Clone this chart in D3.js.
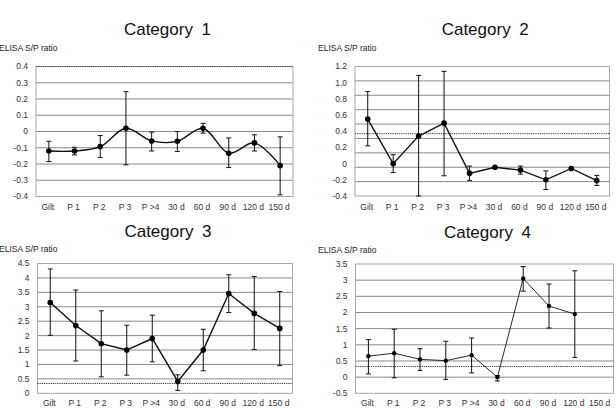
<!DOCTYPE html>
<html>
<head>
  <meta charset="utf-8">
  <title>ELISA S/P ratio by category</title>
  <script src="https://d3js.org/d3.v7.min.js"></script>
  <style>
    body { margin: 0; background: #fff; }
    svg { display: block; font-family: "Liberation Sans", Arial, sans-serif; }
    .title { font-size: 17px; fill: #111; word-spacing: 4px; }
    .ylab { font-size: 8.5px; fill: #222; }
    .tick { font-size: 8.5px; fill: #333; }
    .xlab { font-size: 8.5px; fill: #333; }
  </style>
</head>
<body>
  <svg width="616" height="408"></svg>

  <script>
    var categories = ["Gilt", "P 1", "P 2", "P 3", "P >4", "30 d", "60 d", "90 d", "120 d", "150 d"];

    // Category 1
    var mean1  = [-0.12, -0.12, -0.093, 0.02, -0.058, -0.06, 0.02, -0.134, -0.07, -0.21];
    var upper1 = [-0.06, -0.097, -0.025, 0.245, -0.004, 0.0, 0.05, -0.04, -0.02, -0.033];
    var lower1 = [-0.185, -0.144, -0.16, -0.205, -0.12, -0.123, -0.01, -0.222, -0.12, -0.39];
    var ticks1 = [0.4, 0.3, 0.2, 0.1, 0, -0.1, -0.2, -0.3, -0.4];
    var tickLabels1 = ["0.4", "0.3", "0.2", "0.1", "0", "-0.1", "-0.2", "-0.3", "-0.4"];

    // Category 2
    var mean2  = [0.55, 0.0, 0.34, 0.5, -0.12, -0.045, -0.08, -0.2, -0.06, -0.21];
    var upper2 = [0.89, 0.11, 1.09, 1.14, -0.03, -0.035, -0.03, -0.09, -0.05, -0.145];
    var lower2 = [0.22, -0.11, -0.4, -0.15, -0.21, -0.055, -0.13, -0.32, -0.07, -0.27];
    var ticks2 = [1.2, 1.0, 0.8, 0.6, 0.4, 0.2, 0, -0.2, -0.4];
    var tickLabels2 = ["1.2", "1.0", "0.8", "0.6", "0.4", "0.2", "0", "-0.2", "-0.4"];

    // Category 3
    var mean3  = [3.15, 2.35, 1.72, 1.5, 1.9, 0.41, 1.5, 3.46, 2.77, 2.25];
    var upper3 = [4.31, 3.58, 2.86, 2.36, 2.71, 0.64, 2.22, 4.11, 4.05, 3.53];
    var lower3 = [2.01, 1.12, 0.57, 0.63, 1.09, 0.1, 0.78, 2.8, 1.52, 0.96];
    var ticks3 = [4.5, 4, 3.5, 3, 2.5, 2, 1.5, 1, 0.5, 0];
    var tickLabels3 = ["4.5", "4", "3.5", "3", "2.5", "2", "1.5", "1", "0.5", "0"];

    // Category 4 (no 150 d value)
    var mean4  = [0.65, 0.74, 0.55, 0.51, 0.68, 0.0, 3.05, 2.2, 1.95, null];
    var upper4 = [1.16, 1.48, 0.88, 1.11, 1.21, 0.05, 3.42, 2.88, 3.29, null];
    var lower4 = [0.1, -0.02, 0.21, -0.07, 0.13, -0.12, 2.66, 1.52, 0.61, null];
    var ticks4 = [3.5, 3, 2.5, 2, 1.5, 1, 0.5, 0, -0.5];
    var tickLabels4 = ["3.5", "3", "2.5", "2", "1.5", "1", "0.5", "0", "-0.5"];

    // cut-off (dotted) per panel
    var cutoffs = [0.4, 0.37, 0.34, 0.33];

    var panels = [
      { title: "Category 1", mean: mean1, upper: upper1, lower: lower1, ticks: ticks1, labels: tickLabels1,
        cutoff: cutoffs[0], box: [36, 66.5, 293, 196.5], gridDivs: 8, smooth: true, lw: 1.4, r: 2.8,
        titleY: 35, ylabX: -1, ylabY: 51, xlabY: 210 },
      { title: "Category 2", mean: mean2, upper: upper2, lower: lower2, ticks: ticks2, labels: tickLabels2,
        cutoff: cutoffs[1], box: [355, 66.5, 609.5, 196], gridDivs: 9, smooth: false, lw: 1.4, r: 2.8,
        titleY: 35, ylabX: 318, ylabY: 51, xlabY: 210 },
      { title: "Category 3", mean: mean3, upper: upper3, lower: lower3, ticks: ticks3, labels: tickLabels3,
        cutoff: cutoffs[2], box: [37.5, 263.5, 292.5, 393.3], gridDivs: 9, smooth: false, lw: 1.4, r: 2.8,
        titleY: 237, ylabX: -1, ylabY: 252, xlabY: 406 },
      { title: "Category 4", mean: mean4, upper: upper4, lower: lower4, ticks: ticks4, labels: tickLabels4,
        cutoff: cutoffs[3], box: [355.5, 264, 613.5, 393.3], gridDivs: 8, smooth: false, lw: 0.9, r: 2.2,
        titleY: 238, ylabX: 318, ylabY: 253, xlabY: 406 }
    ];

    var svg = d3.select("svg");

    panels.forEach(function(p) {
      var x0 = p.box[0], y0 = p.box[1], x1 = p.box[2], y1 = p.box[3];
      var g = svg.append("g");

      var x = d3.scaleBand().domain(categories).range([x0, x1]);
      var y = d3.scaleLinear()
        .domain([d3.min(p.ticks), d3.max(p.ticks)])
        .range([y1, y0]);
      var cx = d => x(d) + x.bandwidth() / 2;

      // title + y label
      g.append("text").attr("class", "title")
        .attr("x", (x0 + x1) / 2 + 3).attr("y", p.titleY)
        .attr("text-anchor", "middle")
        .text(p.title);
      g.append("text").attr("class", "ylab")
        .attr("x", p.ylabX).attr("y", p.ylabY)
        .text("ELISA S/P ratio");

      // horizontal grid lines (evenly split over the plot height)
      g.selectAll(".grid")
        .data(d3.range(1, p.gridDivs))
        .enter().append("line")
          .attr("x1", x0).attr("x2", x1)
          .attr("y1", i => y0 + i * (y1 - y0) / p.gridDivs)
          .attr("y2", i => y0 + i * (y1 - y0) / p.gridDivs)
          .style("stroke", "#8a8a8a")
          .style("stroke-width", 1);

      // frame
      g.append("rect")
        .attr("x", x0).attr("y", y0)
        .attr("width", x1 - x0).attr("height", y1 - y0)
        .style("fill", "none")
        .style("stroke", "#a8a8a8")
        .style("stroke-width", 1);

      // cut-off line
      g.append("line")
        .attr("x1", x0).attr("x2", x1)
        .attr("y1", y(p.cutoff)).attr("y2", y(p.cutoff))
        .style("stroke", "#333")
        .style("stroke-width", 1)
        .style("stroke-dasharray", "1.2,1");

      // tick labels
      g.selectAll(".tick")
        .data(p.ticks)
        .enter().append("text")
          .attr("class", "tick")
          .attr("x", x0 - 8)
          .attr("y", d => y(d))
          .attr("dy", "0.35em")
          .attr("text-anchor", "end")
          .text((d, i) => p.labels[i]);

      // category labels
      g.selectAll(".xlab")
        .data(categories)
        .enter().append("text")
          .attr("class", "xlab")
          .attr("x", d => cx(d) - 1)
          .attr("y", p.xlabY)
          .attr("text-anchor", "middle")
          .text(d => d);

      var rows = categories.map(function(c, i) {
        return { c: c, m: p.mean[i], hi: p.upper[i], lo: p.lower[i] };
      }).filter(d => d.m != null);

      // error bars
      var eb = g.selectAll(".err").data(rows).enter().append("g");
      eb.append("line")
        .attr("x1", d => cx(d.c)).attr("x2", d => cx(d.c))
        .attr("y1", d => y(d.hi)).attr("y2", d => y(d.lo));
      eb.append("line")
        .attr("x1", d => cx(d.c) - 2.5).attr("x2", d => cx(d.c) + 2.5)
        .attr("y1", d => y(d.hi)).attr("y2", d => y(d.hi));
      eb.append("line")
        .attr("x1", d => cx(d.c) - 2.5).attr("x2", d => cx(d.c) + 2.5)
        .attr("y1", d => y(d.lo)).attr("y2", d => y(d.lo));
      eb.selectAll("line")
        .style("stroke", "#111")
        .style("stroke-width", 1);

      // mean line
      var line = d3.line()
        .x(d => cx(d.c))
        .y(d => y(d.m))
        .curve(p.smooth ? d3.curveCatmullRom.alpha(0.5) : d3.curveLinear);
      g.append("path")
        .datum(rows)
        .attr("d", line)
        .style("fill", "none")
        .style("stroke", "#111")
        .style("stroke-width", p.lw);

      // markers
      g.selectAll(".pt")
        .data(rows)
        .enter().append("circle")
          .attr("cx", d => cx(d.c))
          .attr("cy", d => y(d.m))
          .attr("r", p.r)
          .style("fill", "#000");
    });
  </script>
</body>
</html>
